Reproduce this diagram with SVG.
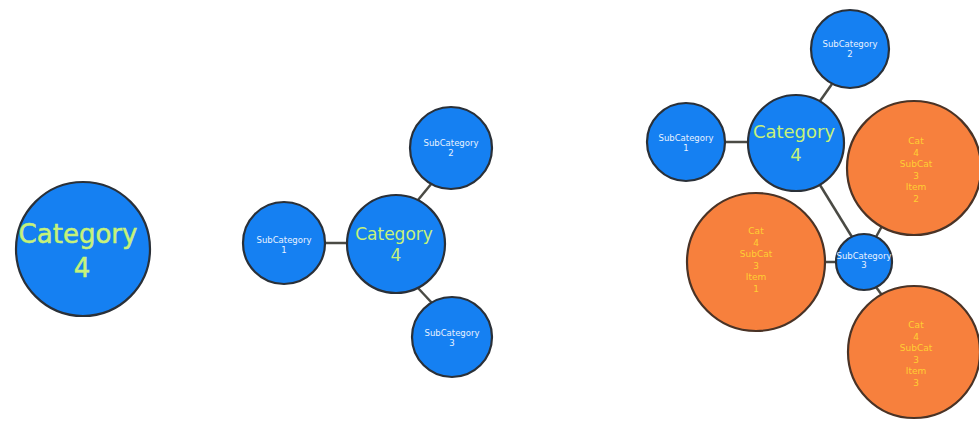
<svg xmlns="http://www.w3.org/2000/svg" width="979" height="423" viewBox="0 0 979 423">
  <style>
    .blue { fill: #1580f2; stroke: #2a3038; stroke-width: 2.2; }
    .orange { fill: #f7803d; stroke: #4a3326; stroke-width: 2.2; }
    .edge { stroke: #4a4a44; stroke-width: 2.5; fill: none; }
    .cat { font-family: "DejaVu Sans", sans-serif; fill: #c6f27a; text-anchor: middle; }
    .sub { font-family: "DejaVu Sans", sans-serif; fill: #e8f2ff; text-anchor: middle; font-size: 8.5px; }
    .item { font-family: "DejaVu Sans", sans-serif; fill: #ffcf33; text-anchor: middle; font-size: 9px; }
  </style>
  <rect width="979" height="423" fill="#ffffff"/>

  <g id="connectors">
    <!-- middle cluster -->
    <line class="edge" x1="325" y1="243" x2="347" y2="243"/>
    <line class="edge" x1="418" y1="200" x2="432" y2="183"/>
    <line class="edge" x1="418" y1="288" x2="432" y2="303"/>
    <!-- right cluster -->
    <line class="edge" x1="725" y1="142" x2="748" y2="142"/>
    <line class="edge" x1="820" y1="101" x2="832" y2="84"/>
    <line class="edge" x1="820" y1="185" x2="852" y2="237"/>
    <line class="edge" x1="825" y1="262" x2="836" y2="262"/>
    <line class="edge" x1="876" y1="237" x2="882" y2="226"/>
    <line class="edge" x1="876" y1="287" x2="884" y2="298"/>
  </g>

  <!-- single category -->
  <g id="cat4-single">
    <circle class="blue" cx="83" cy="249" r="67"/>
    <text class="cat" x="78" y="243" font-size="26" stroke="#c6f27a" stroke-width="0.5">Category</text>
    <text class="cat" x="82" y="277" font-size="26" stroke="#c6f27a" stroke-width="0.5">4</text>
  </g>

  <!-- category with subcategories -->
  <g id="cat4-mid">
    <circle class="blue" cx="396" cy="244" r="49"/>
    <text class="cat" x="394" y="240" font-size="17">Category</text>
    <text class="cat" x="396" y="261" font-size="17">4</text>
  </g>
  <g id="sub1-mid">
    <circle class="blue" cx="284" cy="243" r="41"/>
    <text class="sub" x="284" y="243">SubCategory</text>
    <text class="sub" x="284" y="253">1</text>
  </g>
  <g id="sub2-mid">
    <circle class="blue" cx="451" cy="148" r="41"/>
    <text class="sub" x="451" y="146">SubCategory</text>
    <text class="sub" x="451" y="156">2</text>
  </g>
  <g id="sub3-mid">
    <circle class="blue" cx="452" cy="337" r="40"/>
    <text class="sub" x="452" y="336">SubCategory</text>
    <text class="sub" x="452" y="346">3</text>
  </g>

  <!-- expanded category -->
  <g id="cat4-right">
    <circle class="blue" cx="796" cy="143" r="48"/>
    <text class="cat" x="794" y="138" font-size="18">Category</text>
    <text class="cat" x="796" y="161" font-size="18">4</text>
  </g>
  <g id="sub1-right">
    <circle class="blue" cx="686" cy="142" r="39"/>
    <text class="sub" x="686" y="141">SubCategory</text>
    <text class="sub" x="686" y="151">1</text>
  </g>
  <g id="sub2-right">
    <circle class="blue" cx="850" cy="49" r="39"/>
    <text class="sub" x="850" y="47">SubCategory</text>
    <text class="sub" x="850" y="57">2</text>
  </g>
  <g id="sub3-right">
    <circle class="blue" cx="864" cy="262" r="28"/>
    <text class="sub" x="864" y="259" font-size="5">SubCategory</text>
    <text class="sub" x="864" y="268" font-size="5">3</text>
  </g>
  <g id="item1">
    <circle class="orange" cx="756" cy="262" r="69"/>
    <text class="item" x="756" y="234">Cat</text>
    <text class="item" x="756" y="245.5">4</text>
    <text class="item" x="756" y="257">SubCat</text>
    <text class="item" x="756" y="268.5">3</text>
    <text class="item" x="756" y="280">Item</text>
    <text class="item" x="756" y="291.5">1</text>
  </g>
  <g id="item2">
    <circle class="orange" cx="914" cy="168" r="67"/>
    <text class="item" x="916" y="144">Cat</text>
    <text class="item" x="916" y="155.5">4</text>
    <text class="item" x="916" y="167">SubCat</text>
    <text class="item" x="916" y="178.5">3</text>
    <text class="item" x="916" y="190">Item</text>
    <text class="item" x="916" y="201.5">2</text>
  </g>
  <g id="item3">
    <circle class="orange" cx="914" cy="352" r="66"/>
    <text class="item" x="916" y="328">Cat</text>
    <text class="item" x="916" y="339.5">4</text>
    <text class="item" x="916" y="351">SubCat</text>
    <text class="item" x="916" y="362.5">3</text>
    <text class="item" x="916" y="374">Item</text>
    <text class="item" x="916" y="385.5">3</text>
  </g>
</svg>
